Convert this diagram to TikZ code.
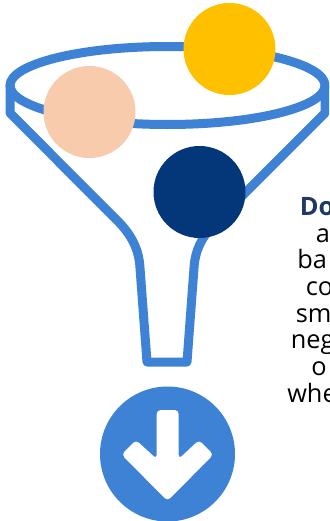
\documentclass[tikz,border=0pt]{standalone}
\usepackage{fontspec}
\setmainfont{Open Sans}
\definecolor{funnel}{HTML}{3E82D6}
\definecolor{navy}{HTML}{03377A}
\definecolor{gold}{HTML}{FFC000}
\definecolor{peach}{HTML}{F8CBAD}
\definecolor{title}{HTML}{1F3864}
\tikzset{
  rim/.style={draw=funnel,line width=9*0.75pt,line join=round},
  ball/.style={circle,inner sep=0pt,minimum size=92*0.75pt},
  txt/.style={inner sep=0pt,anchor=base west,font=\fontsize{19pt}{19pt}\selectfont,text=black}
}
\begin{document}
\begin{tikzpicture}[x=0.75pt,y=-0.75pt]
\useasboundingbox (0,0) rectangle (329,521);
\clip (0,0) rectangle (329,521);
\fill[white] (0,0) rectangle (329,521);
% funnel
\draw[rim] (167.5,85.5) ellipse [x radius=157.5,y radius=39];
\draw[rim] (10,85) -- (10,113) -- (116.7,220) .. controls (132,235) and (139,250) .. (140,268)
  -- (147,362) -- (187,362) -- (194,268) .. controls (195,250) and (202,238) .. (212,226)
  -- (325,113) -- (325,85);
% balls
\node[ball,fill=gold] (y) at (229.5,49) {};
\node[ball,fill=peach] (p) at (89.5,112) {};
\node[ball,fill=navy] (n) at (199.5,192) {};
% arrow disc
\node[circle,inner sep=0pt,minimum size=135*0.75pt,fill=funnel] (d) at (167.5,454) {};
\fill[white,rounded corners=4*0.75pt] (156.7,410) -- (178.7,410) -- (178.7,459) -- (199,440)
  -- (213.5,454.5) -- (167.5,501) -- (121.5,454.5) -- (136,440) -- (156.7,459) -- cycle;
% text, running off the right edge as in the reference
\node[txt,text=title,font=\fontsize{19pt}{19pt}\selectfont\bfseries] (t0) at (299.5,215) {Do};
\node[txt] (t1) at (315.5,242.5) {a};
\node[txt] (t2) at (297,268.5) {ba};
\node[txt] (t3) at (305.5,295) {co};
\node[txt] (t4) at (295.5,322) {sm};
\node[txt] (t5) at (290.5,348.5) {neg};
\node[txt] (t6) at (311,375) {o};
\node[txt] (t7) at (287,402) {whe};
\end{tikzpicture}
\end{document}
